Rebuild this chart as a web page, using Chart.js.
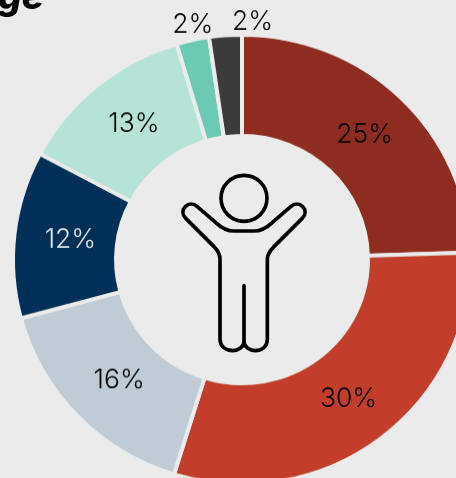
<!DOCTYPE html>
<html>
<head>
<meta charset="utf-8">
<script src="https://cdn.jsdelivr.net/npm/chart.js@4/dist/chart.umd.js"></script>
<style>
html,body{margin:0;padding:0;width:456px;height:478px;overflow:hidden;background:#ebebeb}
#wrap{position:absolute;left:-58px;top:-35px;width:600px;height:600px;transform:scaleY(.982);transform-origin:0 0}
#title{position:absolute;left:-2px;top:-27px;font:italic 800 37px "Inter","Liberation Sans",sans-serif;color:#000;white-space:nowrap}
#icon{position:absolute;left:160px;top:160px;width:160px;height:200px}
</style>
</head>
<body>
<div id="wrap"><canvas id="c" width="600" height="600" style="width:600px;height:600px"></canvas></div>
<div id="title">ge</div>
<svg id="icon" viewBox="0 0 480 600" fill="none" stroke="#000" stroke-width="11" stroke-linecap="round" stroke-linejoin="round">
  <circle cx="252" cy="115" r="69"/>
  <path d="M252 545C252 560 235 572 218 572C196 572 180 558 180 538V298C180 282 172 270 162 260L78 176C66 164 66 150 76 140C86 130 100 130 112 140L170 190C185 204 200 213 222 213H282C304 213 319 204 334 190L392 140C404 130 418 130 428 140C438 150 438 164 426 176L342 260C332 270 322 282 322 298V538C322 558 308 572 286 572C269 572 252 560 252 545Z"/>
  <path d="M252 377V545"/>
</svg>
<script>
const categories = ["A","B","C","D","E","F","G"];
const seriesValues = [24.5, 30.3, 16, 12, 12.6, 2.3, 2.3];
const sliceColors = ["#8e2d1f","#c23e2b","#bfccd6","#003057","#b5e3d8","#6cc9b3","#3b3b3b"];
const labelColors = ["#000","#000","#000","#dfe5ea","#000","#000","#000"];
const labelRadii = [178,176,172.5,173,177,246,244];
const labelTurn = [-0.5,0,-0.7,0.8,1.6,0.9,6.6];

const sliceLabels = {
  id: "sliceLabels",
  afterDatasetsDraw(chart) {
    const ctx = chart.ctx;
    ctx.save();
    ctx.font = '300 26.5px "Inter", sans-serif';
    ctx.textAlign = "center";
    ctx.textBaseline = "middle";
    chart.getDatasetMeta(0).data.forEach((arc, i) => {
      const a = (arc.startAngle + arc.endAngle) / 2 + labelTurn[i] * Math.PI / 180;
      ctx.fillStyle = labelColors[i];
      ctx.fillText(Math.round(seriesValues[i]) + "%", arc.x + labelRadii[i] * Math.cos(a), arc.y + 2 + labelRadii[i] * Math.sin(a));
    });
    ctx.restore();
  }
};

new Chart(document.getElementById("c"), {
  type: "doughnut",
  data: {
    labels: categories,
    datasets: [{
      data: seriesValues,
      backgroundColor: sliceColors,
      borderColor: "#ebebeb",
      borderWidth: 4,
      radius: 229,
      cutout: "55%"
    }]
  },
  options: {
    responsive: false,
    animation: false,
    events: [],
    layout: { padding: 0 },
    plugins: { legend: { display: false }, tooltip: { enabled: false } }
  },
  plugins: [sliceLabels]
});
</script>
</body>
</html>
